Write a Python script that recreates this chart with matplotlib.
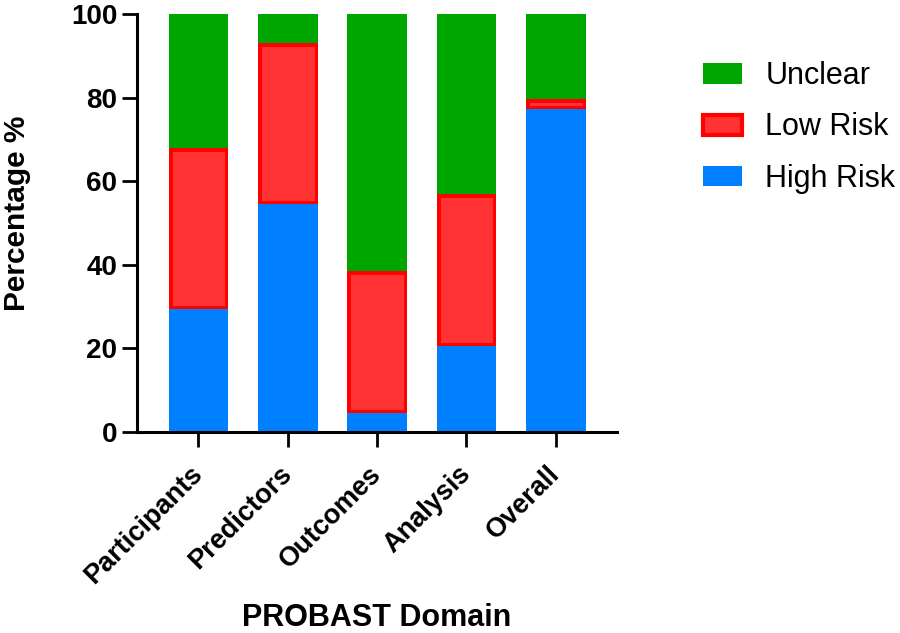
import numpy as np
import matplotlib.pyplot as plt

plt.rcParams['font.family'] = ['Liberation Sans', 'DejaVu Sans']

# data (percent of studies)
domains = ['Participants', 'Predictors', 'Outcomes', 'Analysis', 'Overall']
high_risk = [29.5, 54.5, 4.5, 20.5, 77.3]
low_risk = [38.6, 38.6, 34.1, 36.4, 2.3]
unclear = [31.9, 6.9, 61.4, 43.1, 20.4]

c_high = '#0080ff'
c_low = '#ff3333'
c_low_edge = '#ff0000'
c_unclear = '#00a600'

fig = plt.figure(figsize=(9, 6.33), dpi=100)
ax = fig.add_axes([0.152, 0.3175, 0.534, 0.660])

x = np.arange(len(domains))
w = 0.67
high = np.array(high_risk)
low = np.array(low_risk)

ax.bar(x, high, w, color=c_high, label='High Risk')
bars_low = ax.bar(x, low, w, bottom=high, color=c_low, edgecolor=c_low_edge,
                  linewidth=5, label='Low Risk')
for b in bars_low:
    b.set_clip_path(b)  # keep the red border inside the bar
ax.bar(x, unclear, w, bottom=high + low, color=c_unclear, label='Unclear')

ax.set_xlim(-0.69, 4.69)
ax.set_ylim(0, 100)
ax.set_yticks([0, 20, 40, 60, 80, 100])
ax.set_xticks(x)
ax.set_xticklabels(domains, rotation=45, ha='right', va='center',
                   rotation_mode='anchor', fontsize=19.5, fontweight='bold')
for t in ax.get_yticklabels():
    t.set_fontsize(20)
    t.set_fontweight('bold')

for s in ['top', 'right']:
    ax.spines[s].set_visible(False)
for s in ['left', 'bottom']:
    ax.spines[s].set_linewidth(2.2)
ax.tick_params(axis='both', length=10.5, width=2, direction='out')
ax.tick_params(axis='y', pad=3.5)
ax.tick_params(axis='x', pad=17)

ax.set_ylabel('Percentage %', fontsize=21.5, fontweight='bold')
ax.yaxis.set_label_coords(-0.221, 0.523)
ax.set_xlabel('PROBAST Domain', fontsize=22, fontweight='bold')
ax.xaxis.set_label_coords(0.5, -0.41)

# legend: Unclear on top
h, l = ax.get_legend_handles_labels()
leg = ax.legend(h[::-1], l[::-1], loc='upper left',
                bbox_to_anchor=(0.750, 0.947), bbox_transform=fig.transFigure,
                frameon=False, fontsize=22, handlelength=1.3, handleheight=0.65,
                labelspacing=0.7, handletextpad=0.75)
leg.legend_handles[1].set_linewidth(3)

fig.savefig('out.png', dpi=100)
